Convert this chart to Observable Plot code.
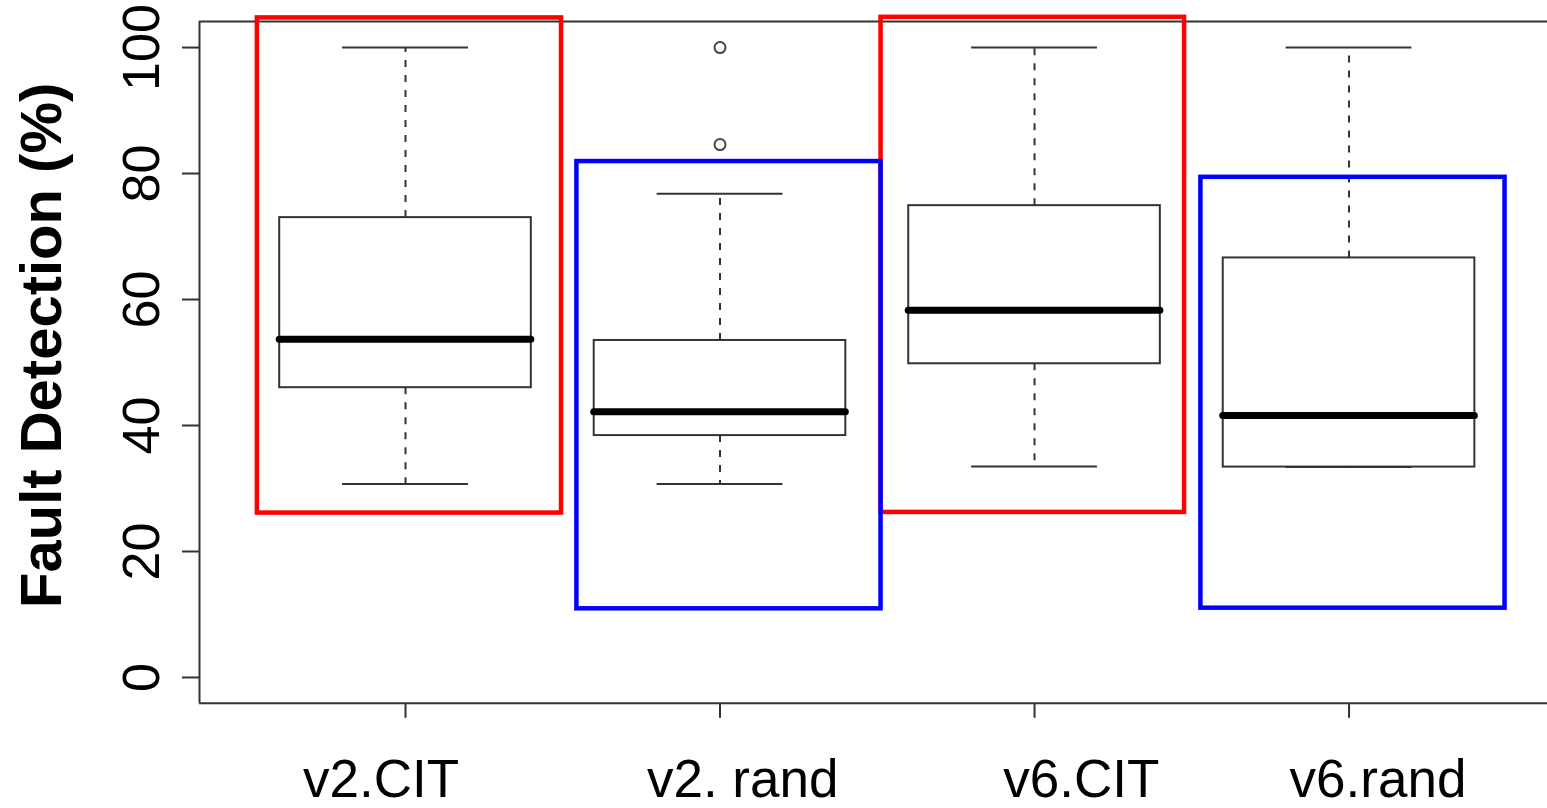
<!DOCTYPE html>
<html>
<head>
<meta charset="utf-8">
<script src="https://cdn.jsdelivr.net/npm/d3@7"></script>
<script src="https://cdn.jsdelivr.net/npm/@observablehq/plot@0.6"></script>
<style>
  body { margin: 0; background: #fff; }
  svg { display: block; }
</style>
</head>
<body>
<div id="chart"></div>
<script>
// ---- data ----
const groups = ["v2.CIT", "v2. rand", "v6.CIT", "v6.rand"];
const whiskerLow  = [30.7, 30.7, 33.5, 33.4];
const q1          = [46.0, 38.4, 49.8, 33.4];
const median      = [53.7, 42.2, 58.3, 41.6];
const q3          = [73.0, 53.5, 74.9, 66.6];
const whiskerHigh = [100, 76.8, 100, 100];
const outlierGroup = ["v2. rand", "v2. rand"];
const outlierValue = [100, 84.6];
const yTicks = [0, 20, 40, 60, 80, 100];
const yTitle = "Fault Detection (%)";
// highlight rectangles (category units on x, percent on y)
const highlightKind   = ["CIT", "rand", "CIT", "rand"];
const highlightLeft   = [0.529, 1.545, 2.512, 3.529];
const highlightRight  = [1.496, 2.512, 3.477, 4.496];
const highlightBottom = [26.1, 10.9, 26.2, 11.0];
const highlightTop    = [104.7, 81.9, 104.8, 79.4];

// ---- derived tables ----
const rows = groups.map((g, i) => ({
  g, i: i + 1, lo: whiskerLow[i], q1: q1[i], med: median[i], q3: q3[i], hi: whiskerHigh[i]
}));
const outs = outlierGroup.map((g, j) => ({ i: groups.indexOf(g) + 1, v: outlierValue[j] }));
const hl = highlightKind.map((k, j) => ({
  k, x1: highlightLeft[j], x2: highlightRight[j], y1: highlightBottom[j], y2: highlightTop[j]
})).sort((a, b) => (a.k === "CIT" ? 0 : 1) - (b.k === "CIT" ? 0 : 1));

const xDomain = [0.345, 4.631];
const yDomain = [-4.1, 104.15];
const labelShift = [-0.078, 0.072, 0.149, 0.092];
const ink = "#333";

const chart = Plot.plot({
  width: 1547,
  height: 808,
  marginLeft: 199,
  marginRight: 0,
  marginTop: 20.9,
  marginBottom: 105.2,
  x: { type: "linear", domain: xDomain },
  y: { domain: yDomain },
  color: { domain: ["CIT", "rand"], range: ["#ff0000", "#0000ff"] },
  style: { fontFamily: "'Liberation Sans', Arial, Helvetica, sans-serif", background: "#fff", color: "#000" },
  marks: [
    // frame (left, top, bottom; right edge lies outside the picture)
    Plot.ruleX([xDomain[0]], { stroke: ink, strokeWidth: 2 }),
    Plot.ruleY(yDomain, { stroke: ink, strokeWidth: 2 }),
    // axes
    Plot.axisY({
      ticks: yTicks, tickSize: 17, tickPadding: 24, tickRotate: -90,
      fontSize: 52, label: null, stroke: ink, strokeWidth: 2, fill: "#000"
    }),
    Plot.axisX({
      ticks: [1, 2, 3, 4], tickSize: 15, stroke: ink, strokeWidth: 2, fill: "none", label: null
    }),
    Plot.text(groups, {
      x: (d, i) => i + 1 + labelShift[i], text: d => d,
      frameAnchor: "bottom", dy: 93.5, lineAnchor: "bottom", textAnchor: "middle",
      fontSize: 53, fill: "#000"
    }),
    Plot.text([yTitle], {
      text: d => d, frameAnchor: "left", dx: -157, dy: -17, rotate: -90,
      textAnchor: "middle", lineAnchor: "middle", fontSize: 58, fontWeight: "bold", fill: "#000"
    }),
    // whiskers
    Plot.ruleX(rows, { x: "i", y1: "q3", y2: "hi", stroke: ink, strokeWidth: 2, strokeDasharray: "7,8" }),
    Plot.ruleX(rows, { x: "i", y1: "q1", y2: "lo", stroke: ink, strokeWidth: 2, strokeDasharray: "7,8" }),
    Plot.ruleY(rows, { y: "hi", x1: d => d.i - 0.2, x2: d => d.i + 0.2, stroke: ink, strokeWidth: 2 }),
    Plot.ruleY(rows, { y: "lo", x1: d => d.i - 0.2, x2: d => d.i + 0.2, stroke: ink, strokeWidth: 2 }),
    // boxes
    Plot.rect(rows, { x1: d => d.i - 0.4, x2: d => d.i + 0.4, y1: "q1", y2: "q3", fill: "none", stroke: ink, strokeWidth: 2 }),
    Plot.ruleY(rows, { y: "med", x1: d => d.i - 0.4, x2: d => d.i + 0.4, stroke: "#000", strokeWidth: 7, strokeLinecap: "round" }),
    // outliers
    Plot.dot(outs, { x: "i", y: "v", r: 5.5, stroke: "#444", strokeWidth: 2, fill: "none" }),
    // highlight rectangles
    Plot.rect(hl, { x1: "x1", x2: "x2", y1: "y1", y2: "y2", stroke: "k", fill: "none", strokeWidth: 4.5 })
  ]
});
document.getElementById("chart").append(chart);
</script>
</body>
</html>
